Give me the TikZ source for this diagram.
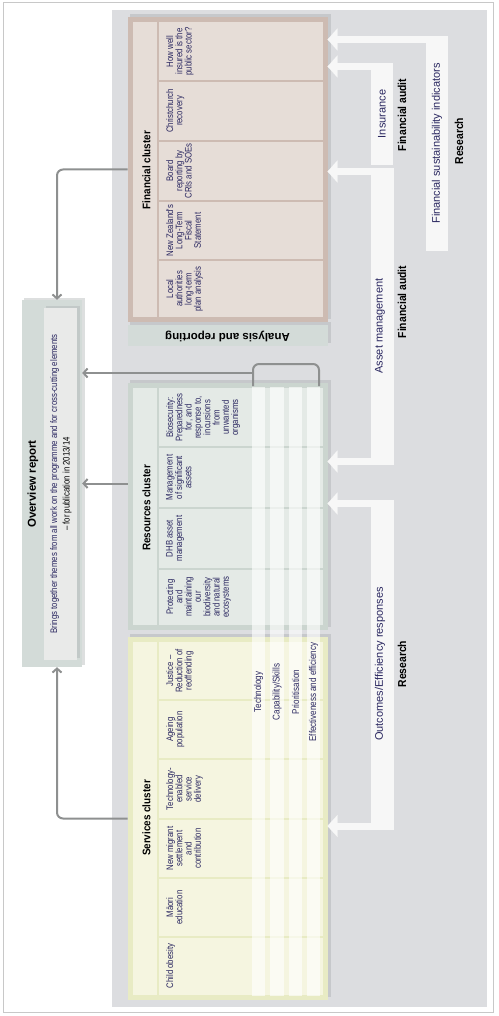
\documentclass[tikz,border=0pt]{standalone}
\usepackage{fontspec}
\setmainfont{Liberation Sans}
\newfontfamily\cond[FakeStretch=0.82]{Liberation Sans}
\newfontfamily\bcond[FakeStretch=0.9]{Liberation Sans}
\usetikzlibrary{arrows.meta}
\definecolor{panel}{HTML}{DCDDE0}
\definecolor{frameln}{HTML}{C8C8C8}
\definecolor{finB}{HTML}{CDBBB2}
\definecolor{finF}{HTML}{E6DDD7}
\definecolor{resB}{HTML}{CBD5CF}
\definecolor{resF}{HTML}{E4EAE6}
\definecolor{serB}{HTML}{E8EBC4}
\definecolor{serF}{HTML}{F5F5E0}
\definecolor{ovB}{HTML}{D3DBD8}
\definecolor{ovF}{HTML}{E9EAE9}
\definecolor{connc}{HTML}{8E9090}
\definecolor{warr}{HTML}{F7F7F7}
\definecolor{txtc}{HTML}{2A2760}
\definecolor{shad}{HTML}{9EA2A4}
\begin{document}
\begin{tikzpicture}[x=1pt,y=-1pt,
  cbox/.style={rectangle, line width=5pt, inner sep=0pt, minimum width=195pt},
  shadowbox/.style={fill=shad, opacity=0.35},
  cell/.style={rotate=90, anchor=north, align=center, inner sep=0pt, text=txtc,
    font=\cond\fontsize{9.5}{9.3}\selectfont},
  ctitle/.style={rotate=90, inner sep=0pt, font=\bcond\bfseries\fontsize{11}{13}\selectfont},
  strip/.style={fill=white, opacity=0.62},
  slabel/.style={rotate=90, inner sep=0pt, text=txtc, font=\cond\fontsize{9.8}{11}\selectfont},
  divl/.style={line width=1.5pt},
  conn/.style={draw=connc, line width=2pt, rounded corners=6pt, -{Straight Barb[length=4pt,width=9pt]}},
  cline/.style={draw=connc, line width=2pt, rounded corners=6pt},
  wbar/.style={fill=warr, inner sep=0pt, outer sep=0pt},
  warrow/.style={draw=warr, line width=7pt, -{Triangle[length=10pt,width=22pt,line width=0.1pt]}},
  blabel/.style={rotate=90, inner sep=0pt, text=txtc, font=\fontsize{11}{13}\selectfont},
  bold/.style={rotate=90, inner sep=0pt, font=\bcond\bfseries\fontsize{11.5}{13}\selectfont}
]
\useasboundingbox (0,0) rectangle (498,1016);
% frame and panel
\draw[frameln, line width=1pt] (3,3) rectangle (493,1012);
\fill[panel] (112,10) rectangle (487,1007);

% overview report
\fill[shadowbox] (24,298) rectangle (85,665);
\node[fill=ovB, inner sep=0pt, minimum width=60pt, minimum height=367pt] (ov) at (52,483.5) {};
\fill[shad, opacity=0.3] (46,306) rectangle (79.5,658);
\node[fill=ovF, inner sep=0pt, minimum width=33pt, minimum height=352pt] (ovin) at (60.5,484) {};
\node[rotate=90, inner sep=0pt, font=\bfseries\fontsize{11.5}{13}\selectfont] (ovt) at (33,484) {Overview report};
\node[rotate=90, inner sep=0pt, align=center, text=txtc, font=\cond\fontsize{9.5}{12.5}\selectfont] (ovs) at (61,484)
  {Brings together themes from all work on the programme and for cross-cutting elements\\\textcolor{black}{– for publication in 2013/14}};

% coordinates for box positions (used by connectors)
\coordinate (bkL) at (253,386);
\coordinate (bkR) at (319,386);
\coordinate (bkJ) at (253,373);

% shadows of clusters
\fill[shadowbox] (130,14) rectangle (331,319);
\fill[shadowbox] (130,322) rectangle (331,343);
\fill[shadowbox] (130,380) rectangle (331,627);
\fill[shadowbox] (130,634) rectangle (331,997);

% cluster boxes
\node[cbox, draw=finB, fill=finF, minimum height=300pt] (fin) at (227.5,169.5) {};
\node[fill=ovB, inner sep=0pt, minimum width=200pt, minimum height=21pt] (ana) at (227.5,335.5) {};
\node[rotate=180, inner sep=0pt, font=\bfseries\fontsize{11.5}{13}\selectfont] (anat) at (227.5,336) {Analysis and reporting};
\node[cbox, draw=resB, fill=resF, minimum height=242pt] (res) at (227.5,506.5) {};
\node[cbox, draw=serB, fill=serF, minimum height=358pt] (serv) at (227.5,818.5) {};

% dividers
\draw[finB, divl] (158,19.5) -- (158,319.5);
\foreach \y in {81,141,201,260} \draw[finB, divl] (158,\y) -- (325,\y);
\draw[resB, divl] (158,385.5) -- (158,627.5);
\foreach \y in {447,508,569} \draw[resB, divl] (158,\y) -- (325,\y);
\draw[serB, divl] (158,639.5) -- (158,997.5);
\foreach \y in {700,759,819,878,937} \draw[serB, divl] (158,\y) -- (325,\y);

% cross-cutting strips
\fill[strip] (252,387) rectangle (265,996);
\fill[strip] (270,387) rectangle (284,996);
\fill[strip] (289,387) rectangle (302,996);
\fill[strip] (307,387) rectangle (320,996);
\node[slabel] (s1) at (258.5,692) {Technology};
\node[slabel] (s2) at (277,692) {Capability/Skills};
\node[slabel] (s3) at (295.5,692) {Prioritisation};
\node[slabel] (s4) at (313.5,692) {Effectiveness and efficiency};

% titles
\node[ctitle] (fint) at (146.5,170) {Financial cluster};
\node[ctitle] (rest) at (146.5,508) {Resources cluster};
\node[ctitle] (sert) at (146.5,818) {Services cluster};

% financial cells
\node[cell] (f1) at (166,51.5) {How well\\insured is the\\public sector?};
\node[cell] (f2) at (166,111) {Christchurch\\recovery};
\node[cell] (f3) at (166,171) {Board\\reporting by\\CRIs and SOEs};
\node[cell] (f4) at (166,230.5) {New Zealand's\\Long-Term\\Fiscal\\Statement};
\node[cell] (f5) at (166,289) {Local\\authorities\\long-term\\plan analysis};
% resources cells
\node[cell] (r1) at (166,417.5) {Biosecurity:\\Preparedness\\for, and\\response to,\\incursions\\from\\unwanted\\organisms};
\node[cell] (r2) at (166,477.5) {Management\\of significant\\assets};
\node[cell] (r3) at (166,538.5) {DHB asset\\management};
\node[cell] (r4) at (166,597) {Protecting\\and\\maintaining\\our\\biodiversity\\and natural\\ecosystems};
% services cells
\node[cell] (v1) at (166,671) {Justice –\\Reduction of\\reoffending};
\node[cell] (v2) at (166,729.5) {Ageing\\population};
\node[cell] (v3) at (166,789) {Technology-\\enabled\\service\\delivery};
\node[cell] (v4) at (166,848.5) {New migrant\\settlement\\and\\contribution};
\node[cell] (v5) at (166,907.5) {Māori\\education};
\node[cell] (v6) at (166,966) {Child obesity};

% grey connectors to overview
\draw[conn] (fin.west) -| ([xshift=5pt]ov.north);
\draw[conn] (res.west |- ov.east) -- (ov.east);
\draw[conn] (serv.west) -| ([xshift=5pt]ov.south);
\draw[cline] (bkL) -- ++(0,-22) -| (bkR);
\draw[conn] (bkJ) -- (bkJ -| ov.east);

% white bars and arrows
\node[wbar, minimum width=22pt, minimum height=215pt] (fsibar) at (437,143.5) {};
\node[wbar, minimum width=22pt, minimum height=102pt] (insbar) at (382,114) {};
\node[wbar, minimum width=23pt, minimum height=297pt] (assbar) at (382.5,316.5) {};
\node[wbar, minimum width=23pt, minimum height=329.5pt] (outbar) at (382.5,664.75) {};
\path ([yshift=-3.5pt]fsibar.north east) coordinate (a1);
\path ([yshift=-3.5pt]insbar.north east) coordinate (a2);
\path ([yshift=-3.5pt]assbar.north east) coordinate (a3);
\path ([yshift=3.5pt]assbar.south east) coordinate (a4);
\path ([yshift=-3.5pt]outbar.north east) coordinate (a5);
\path ([yshift=3.5pt]outbar.south east) coordinate (a6);
\draw[warrow] (a1) -- (a1 -| fin.east);
\draw[warrow] (a2) -- (a2 -| fin.east);
\draw[warrow] (a3) -- (a3 -| fin.east);
\draw[warrow] (a4) -- (a4 -| res.east);
\draw[warrow] (a5) -- (a5 -| res.east);
\draw[warrow] (a6) -- (a6 -| serv.east);

\node[blabel] (fsit) at (fsibar) {Financial sustainability indicators};
\node[blabel] (inst) at (insbar) {Insurance};
\node[blabel] (asst) at (380,326) {Asset management};
\node[blabel] (outt) at (380,664) {Outcomes/Efficiency responses};
\node[bold] (fa1) at (402,115) {Financial audit};
\node[bold] (fa2) at (402,302) {Financial audit};
\node[bold] (rs1) at (459,141) {Research};
\node[bold] (rs2) at (402,664) {Research};
\end{tikzpicture}
\end{document}
